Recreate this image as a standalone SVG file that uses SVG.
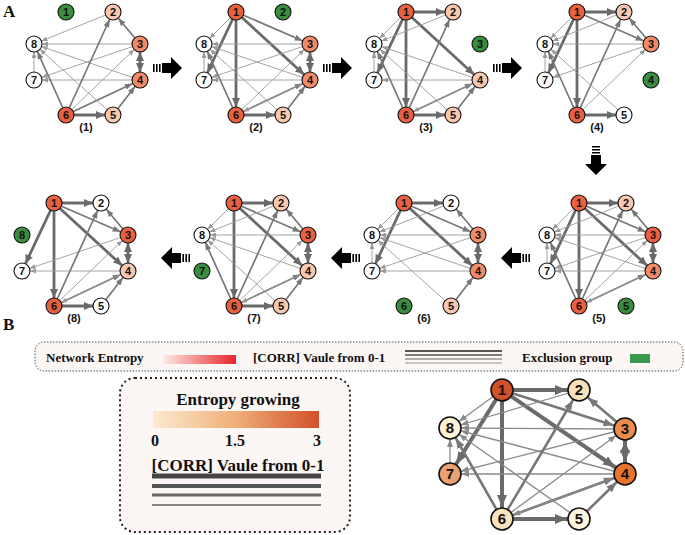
<svg xmlns="http://www.w3.org/2000/svg" xmlns:xlink="http://www.w3.org/1999/xlink" width="685" height="535" viewBox="0 0 685 535">
<style>
.k{stroke:#6a6a6a;stroke-width:2.8;marker-end:url(#mk)}
.m{stroke:#777;stroke-width:1.7;marker-end:url(#mm)}
.t{stroke:#9a9a9a;stroke-width:0.9;marker-end:url(#mt)}
.bk{stroke:#6a6a6a;stroke-width:4;marker-end:url(#bmk)}
.bm{stroke:#777;stroke-width:2.6;marker-end:url(#bmm)}
.bt{stroke:#8a8a8a;stroke-width:1.3;marker-end:url(#bmt)}
.n circle{stroke:#111;stroke-width:1.1}
.n text{font-family:"Liberation Sans",Arial,sans-serif;font-weight:bold;font-size:11px;text-anchor:middle;fill:#111}
.B circle{stroke:#111;stroke-width:1.6}
.B text{font-size:15px}
.d{fill:#e8603f}.m2{fill:#f08a68}.l{fill:#f8c7b0}.w{fill:#fff}.g{fill:#3a8c3f}
.lab{font-family:"Liberation Sans",Arial,sans-serif;font-size:7px;font-weight:bold;text-anchor:middle;fill:#222}
.sf{font-family:"Liberation Serif","Times New Roman",serif;font-weight:bold;fill:#111}
</style>
<defs>
<marker id="mk" markerUnits="userSpaceOnUse" orient="auto-start-reverse" markerWidth="10" markerHeight="8" refX="17" refY="4"><path d="M0,0L9,4L0,8z" fill="#6a6a6a"/></marker>
<marker id="mm" markerUnits="userSpaceOnUse" orient="auto" markerWidth="9" markerHeight="6" refX="16" refY="3"><path d="M0,0L8,3L0,6z" fill="#777"/></marker>
<marker id="mt" markerUnits="userSpaceOnUse" orient="auto" markerWidth="7" markerHeight="5" refX="14" refY="2.5"><path d="M0,0L6,2.5L0,5z" fill="#9a9a9a"/></marker>
<marker id="bmk" markerUnits="userSpaceOnUse" orient="auto-start-reverse" markerWidth="13" markerHeight="10" refX="24" refY="5"><path d="M0,0L12,5L0,10z" fill="#6a6a6a"/></marker>
<marker id="bmm" markerUnits="userSpaceOnUse" orient="auto" markerWidth="11" markerHeight="8" refX="22" refY="4"><path d="M0,0L10,4L0,8z" fill="#777"/></marker>
<marker id="bmt" markerUnits="userSpaceOnUse" orient="auto" markerWidth="9" markerHeight="6" refX="19" refY="3"><path d="M0,0L8,3L0,6z" fill="#8a8a8a"/></marker>
<line id="a" class="k" x1="66" y1="12" x2="113" y2="12"/>
<line id="b" class="k" x1="66" y1="12" x2="66" y2="115"/>
<line id="c" class="k" x1="66" y1="12" x2="140" y2="80"/>
<line id="d" class="m" x1="66" y1="12" x2="140" y2="44"/>
<line id="e" class="k" x1="66" y1="12" x2="34" y2="80"/>
<line id="f" class="t" x1="66" y1="12" x2="34" y2="44"/>
<line id="g" class="t" x1="113" y1="12" x2="34" y2="44"/>
<line id="h" class="m" x1="140" y1="44" x2="113" y2="12"/>
<line id="i" class="k" x1="140" y1="44" x2="140" y2="80" style="marker-start:url(#mk)"/>
<line id="j" class="t" x1="140" y1="44" x2="34" y2="44"/>
<line id="k" class="t" x1="140" y1="44" x2="34" y2="80"/>
<line id="l" class="t" x1="66" y1="115" x2="140" y2="44"/>
<line id="m" class="t" x1="140" y1="80" x2="34" y2="44"/>
<line id="n" class="t" x1="140" y1="80" x2="34" y2="80"/>
<line id="o" class="t" x1="34" y1="80" x2="34" y2="44"/>
<line id="p" class="m" x1="66" y1="115" x2="113" y2="12"/>
<line id="q" class="m" x1="66" y1="115" x2="34" y2="44"/>
<line id="r" class="k" x1="66" y1="115" x2="113" y2="115"/>
<line id="s" class="m" x1="66" y1="115" x2="140" y2="80"/>
<line id="t" class="m" x1="113" y1="115" x2="140" y2="80"/>
<line id="u" class="t" x1="113" y1="115" x2="34" y2="44"/>
<line id="v" class="t" x1="140" y1="80" x2="66" y2="115"/>
<path id="arr" d="M0,-4h1.6v8h-1.6zM3,-4h1.6v8h-1.6zM6,-4h1.6v8h-1.6zM9,-5h9v-6l11,11l-11,11v-6h-9z" fill="#000"/>
<linearGradient id="g1"><stop offset="0" stop-color="#fdeae4"/><stop offset="1" stop-color="#e8242a"/></linearGradient>
<linearGradient id="g2"><stop offset="0" stop-color="#fcebd0"/><stop offset="0.5" stop-color="#efae78"/><stop offset="1" stop-color="#d2502a"/></linearGradient>
</defs>
<text class="sf" x="3" y="17" font-size="17">A</text>
<text class="sf" x="3" y="330" font-size="17">B</text>
<g id="connectors">
<g transform="translate(0,0)"><use href="#g"/><use href="#h"/><use href="#i"/><use href="#j"/><use href="#k"/><use href="#l"/><use href="#m"/><use href="#n"/><use href="#o"/><use href="#p"/><use href="#q"/><use href="#r"/><use href="#s"/><use href="#t"/><use href="#u"/></g>
<g transform="translate(170,0)"><use href="#b"/><use href="#c"/><use href="#d"/><use href="#e"/><use href="#f"/><use href="#i"/><use href="#j"/><use href="#k"/><use href="#l"/><use href="#m"/><use href="#n"/><use href="#o"/><use href="#q"/><use href="#r"/><use href="#s"/><use href="#t"/><use href="#u"/><use href="#v"/></g>
<g transform="translate(340,0)"><use href="#a"/><use href="#b"/><use href="#c"/><use href="#e"/><use href="#f"/><use href="#g"/><use href="#m"/><use href="#n"/><use href="#o"/><use href="#p"/><use href="#q"/><use href="#r"/><use href="#s"/><use href="#t"/><use href="#u"/><use href="#v"/></g>
<g transform="translate(511,0)"><use href="#a"/><use href="#b"/><use href="#d"/><use href="#e"/><use href="#f"/><use href="#g"/><use href="#h"/><use href="#j"/><use href="#k"/><use href="#l"/><use href="#o"/><use href="#p"/><use href="#q"/><use href="#r"/><use href="#u"/></g>
<g transform="translate(513,191)"><use href="#a"/><use href="#b"/><use href="#c"/><use href="#d"/><use href="#e"/><use href="#f"/><use href="#g"/><use href="#h"/><use href="#i"/><use href="#j"/><use href="#k"/><use href="#l"/><use href="#m"/><use href="#n"/><use href="#o"/><use href="#p"/><use href="#q"/><use href="#s"/><use href="#v"/></g>
<g transform="translate(338,191)"><use href="#a"/><use href="#c"/><use href="#d"/><use href="#e"/><use href="#f"/><use href="#g"/><use href="#h"/><use href="#i"/><use href="#j"/><use href="#k"/><use href="#m"/><use href="#n"/><use href="#o"/><use href="#t"/><use href="#u"/></g>
<g transform="translate(168,191)"><use href="#a"/><use href="#b"/><use href="#c"/><use href="#d"/><use href="#f"/><use href="#g"/><use href="#h"/><use href="#i"/><use href="#j"/><use href="#l"/><use href="#m"/><use href="#p"/><use href="#q"/><use href="#r"/><use href="#s"/><use href="#t"/><use href="#u"/><use href="#v"/></g>
<g transform="translate(-12,191)"><use href="#a"/><use href="#b"/><use href="#c"/><use href="#d"/><use href="#e"/><use href="#h"/><use href="#i"/><use href="#k"/><use href="#l"/><use href="#n"/><use href="#p"/><use href="#r"/><use href="#s"/><use href="#t"/><use href="#v"/></g>
<g id="bconn">
<line class="bk" x1="502" y1="390" x2="579" y2="390"/>
<line class="bk" x1="502" y1="390" x2="502" y2="519"/>
<line class="bk" x1="502" y1="390" x2="625" y2="474"/>
<line class="bm" x1="502" y1="390" x2="625" y2="429"/>
<line class="bk" x1="502" y1="390" x2="450" y2="474"/>
<line class="bt" x1="502" y1="390" x2="450" y2="428"/>
<line class="bt" x1="579" y1="390" x2="450" y2="428"/>
<line class="bm" x1="625" y1="429" x2="579" y2="390"/>
<line class="bk" x1="625" y1="429" x2="625" y2="474" style="marker-start:url(#bmk)"/>
<line class="bt" x1="625" y1="429" x2="450" y2="428"/>
<line class="bt" x1="625" y1="429" x2="450" y2="474"/>
<line class="bt" x1="502" y1="519" x2="625" y2="429"/>
<line class="bt" x1="625" y1="474" x2="450" y2="428"/>
<line class="bt" x1="625" y1="474" x2="450" y2="474"/>
<line class="bt" x1="450" y1="474" x2="450" y2="428"/>
<line class="bm" x1="502" y1="519" x2="579" y2="390"/>
<line class="bm" x1="502" y1="519" x2="450" y2="428"/>
<line class="bk" x1="502" y1="519" x2="579" y2="519"/>
<line class="bm" x1="502" y1="519" x2="625" y2="474"/>
<line class="bm" x1="579" y1="519" x2="625" y2="474"/>
<line class="bt" x1="579" y1="519" x2="450" y2="428"/>
<line class="bt" x1="625" y1="474" x2="502" y2="519"/>
</g>
</g>
<g id="arrows">
<use href="#arr" transform="translate(153,68)"/>
<use href="#arr" transform="translate(323,68)"/>
<use href="#arr" transform="translate(493,68)"/>
<use href="#arr" transform="translate(596,146) rotate(90)"/>
<use href="#arr" transform="translate(190,258) scale(-1,1)"/>
<use href="#arr" transform="translate(360,258) scale(-1,1)"/>
<use href="#arr" transform="translate(530,258) scale(-1,1)"/>
</g>
<g id="p1" class="n"><circle cx="66" cy="12" r="8" class="g"/><text x="66" y="16">1</text><circle cx="113" cy="12" r="8" class="l"/><text x="113" y="16">2</text><circle cx="140" cy="44" r="8" class="m2"/><text x="140" y="48">3</text><circle cx="140" cy="80" r="8" class="m2"/><text x="140" y="84">4</text><circle cx="113" cy="115" r="8" class="l"/><text x="113" y="119">5</text><circle cx="66" cy="115" r="8" class="d"/><text x="66" y="119">6</text><circle cx="34" cy="80" r="8" class="w"/><text x="34" y="84">7</text><circle cx="34" cy="44" r="8" class="w"/><text x="34" y="48">8</text><text class="lab" x="86" y="131">(1)</text></g>
<g id="p2" class="n" transform="translate(170,0)"><circle cx="66" cy="12" r="8" class="d"/><text x="66" y="16">1</text><circle cx="113" cy="12" r="8" class="g"/><text x="113" y="16">2</text><circle cx="140" cy="44" r="8" class="m2"/><text x="140" y="48">3</text><circle cx="140" cy="80" r="8" class="m2"/><text x="140" y="84">4</text><circle cx="113" cy="115" r="8" class="l"/><text x="113" y="119">5</text><circle cx="66" cy="115" r="8" class="d"/><text x="66" y="119">6</text><circle cx="34" cy="80" r="8" class="w"/><text x="34" y="84">7</text><circle cx="34" cy="44" r="8" class="w"/><text x="34" y="48">8</text><text class="lab" x="86" y="131">(2)</text></g>
<g id="p3" class="n" transform="translate(340,0)"><circle cx="66" cy="12" r="8" class="d"/><text x="66" y="16">1</text><circle cx="113" cy="12" r="8" class="l"/><text x="113" y="16">2</text><circle cx="140" cy="44" r="8" class="g"/><text x="140" y="48">3</text><circle cx="140" cy="80" r="8" class="l"/><text x="140" y="84">4</text><circle cx="113" cy="115" r="8" class="l"/><text x="113" y="119">5</text><circle cx="66" cy="115" r="8" class="d"/><text x="66" y="119">6</text><circle cx="34" cy="80" r="8" class="w"/><text x="34" y="84">7</text><circle cx="34" cy="44" r="8" class="w"/><text x="34" y="48">8</text><text class="lab" x="86" y="131">(3)</text></g>
<g id="p4" class="n" transform="translate(511,0)"><circle cx="66" cy="12" r="8" class="d"/><text x="66" y="16">1</text><circle cx="113" cy="12" r="8" class="l"/><text x="113" y="16">2</text><circle cx="140" cy="44" r="8" class="m2"/><text x="140" y="48">3</text><circle cx="140" cy="80" r="8" class="g"/><text x="140" y="84">4</text><circle cx="113" cy="115" r="8" class="w"/><text x="113" y="119">5</text><circle cx="66" cy="115" r="8" class="d"/><text x="66" y="119">6</text><circle cx="34" cy="80" r="8" class="w"/><text x="34" y="84">7</text><circle cx="34" cy="44" r="8" class="w"/><text x="34" y="48">8</text><text class="lab" x="86" y="131">(4)</text></g>
<g id="p5" class="n" transform="translate(513,191)"><circle cx="66" cy="12" r="8" class="d"/><text x="66" y="16">1</text><circle cx="113" cy="12" r="8" class="l"/><text x="113" y="16">2</text><circle cx="140" cy="44" r="8" class="d"/><text x="140" y="48">3</text><circle cx="140" cy="80" r="8" class="m2"/><text x="140" y="84">4</text><circle cx="113" cy="115" r="8" class="g"/><text x="113" y="119">5</text><circle cx="66" cy="115" r="8" class="d"/><text x="66" y="119">6</text><circle cx="34" cy="80" r="8" class="w"/><text x="34" y="84">7</text><circle cx="34" cy="44" r="8" class="w"/><text x="34" y="48">8</text><text class="lab" x="86" y="131">(5)</text></g>
<g id="p6" class="n" transform="translate(338,191)"><circle cx="66" cy="12" r="8" class="d"/><text x="66" y="16">1</text><circle cx="113" cy="12" r="8" class="w"/><text x="113" y="16">2</text><circle cx="140" cy="44" r="8" class="m2"/><text x="140" y="48">3</text><circle cx="140" cy="80" r="8" class="m2"/><text x="140" y="84">4</text><circle cx="113" cy="115" r="8" class="l"/><text x="113" y="119">5</text><circle cx="66" cy="115" r="8" class="g"/><text x="66" y="119">6</text><circle cx="34" cy="80" r="8" class="w"/><text x="34" y="84">7</text><circle cx="34" cy="44" r="8" class="w"/><text x="34" y="48">8</text><text class="lab" x="86" y="131">(6)</text></g>
<g id="p7" class="n" transform="translate(168,191)"><circle cx="66" cy="12" r="8" class="d"/><text x="66" y="16">1</text><circle cx="113" cy="12" r="8" class="l"/><text x="113" y="16">2</text><circle cx="140" cy="44" r="8" class="d"/><text x="140" y="48">3</text><circle cx="140" cy="80" r="8" class="l"/><text x="140" y="84">4</text><circle cx="113" cy="115" r="8" class="l"/><text x="113" y="119">5</text><circle cx="66" cy="115" r="8" class="d"/><text x="66" y="119">6</text><circle cx="34" cy="80" r="8" class="g"/><text x="34" y="84">7</text><circle cx="34" cy="44" r="8" class="w"/><text x="34" y="48">8</text><text class="lab" x="86" y="131">(7)</text></g>
<g id="p8" class="n" transform="translate(-12,191)"><circle cx="66" cy="12" r="8" class="d"/><text x="66" y="16">1</text><circle cx="113" cy="12" r="8" class="w"/><text x="113" y="16">2</text><circle cx="140" cy="44" r="8" class="d"/><text x="140" y="48">3</text><circle cx="140" cy="80" r="8" class="l"/><text x="140" y="84">4</text><circle cx="113" cy="115" r="8" class="w"/><text x="113" y="119">5</text><circle cx="66" cy="115" r="8" class="d"/><text x="66" y="119">6</text><circle cx="34" cy="80" r="8" class="w"/><text x="34" y="84">7</text><circle cx="34" cy="44" r="8" class="g"/><text x="34" y="48">8</text><text class="lab" x="86" y="131">(8)</text></g>
<g id="legend1">
<rect x="35" y="342" width="648" height="29" rx="9" fill="#fcf7f5" stroke="#555" stroke-dasharray="1.5,1.5"/>
<text class="sf" x="46" y="362" font-size="13">Network Entropy</text>
<rect x="163" y="355" width="73" height="9" fill="url(#g1)"/>
<text class="sf" x="253" y="362" font-size="13">[CORR] Vaule from 0-1</text>
<line x1="405" y1="351" x2="502" y2="351" stroke="#555" stroke-width="2"/>
<line x1="405" y1="355" x2="502" y2="355" stroke="#555" stroke-width="1.6"/>
<line x1="405" y1="359" x2="502" y2="359" stroke="#666" stroke-width="1.2"/>
<line x1="405" y1="363" x2="502" y2="363" stroke="#888" stroke-width="0.9"/>
<text class="sf" x="522" y="362" font-size="13">Exclusion group</text>
<rect x="630" y="354" width="20" height="9" fill="#3a9a4a"/>
</g>
<g id="legend2">
<rect x="120" y="378" width="230" height="154" rx="15" fill="#fcf7f5" stroke="#222" stroke-width="2" stroke-dasharray="2,3"/>
<text class="sf" x="238" y="405" font-size="17" text-anchor="middle">Entropy growing</text>
<rect x="153" y="411" width="166" height="17" fill="url(#g2)"/>
<text class="sf" x="155" y="446" font-size="16" text-anchor="middle">0</text>
<text class="sf" x="235" y="446" font-size="16" text-anchor="middle">1.5</text>
<text class="sf" x="317" y="446" font-size="16" text-anchor="middle">3</text>
<text class="sf" x="238" y="471" font-size="17" text-anchor="middle">[CORR] Vaule from 0-1</text>
<line x1="152" y1="476" x2="321" y2="476" stroke="#444" stroke-width="5"/>
<line x1="152" y1="486" x2="321" y2="486" stroke="#555" stroke-width="4"/>
<line x1="152" y1="495" x2="321" y2="495" stroke="#666" stroke-width="3"/>
<line x1="152" y1="505" x2="321" y2="505" stroke="#888" stroke-width="2"/>
</g>
<g id="graphB" class="n B">
<circle cx="502" cy="390" r="11" fill="#d2502a"/><text x="502" y="395">1</text>
<circle cx="579" cy="390" r="11" fill="#fae0b8"/><text x="579" y="395">2</text>
<circle cx="625" cy="429" r="11" fill="#ec8c4c"/><text x="625" y="434">3</text>
<circle cx="625" cy="474" r="11" fill="#e8742e"/><text x="625" y="479">4</text>
<circle cx="579" cy="519" r="11" fill="#fdf4dc"/><text x="579" y="524">5</text>
<circle cx="502" cy="519" r="11" fill="#fae4bc"/><text x="502" y="524">6</text>
<circle cx="450" cy="474" r="11" fill="#eaa070"/><text x="450" y="479">7</text>
<circle cx="450" cy="428" r="11" fill="#fdf2d8"/><text x="450" y="433">8</text>
</g>
</svg>
